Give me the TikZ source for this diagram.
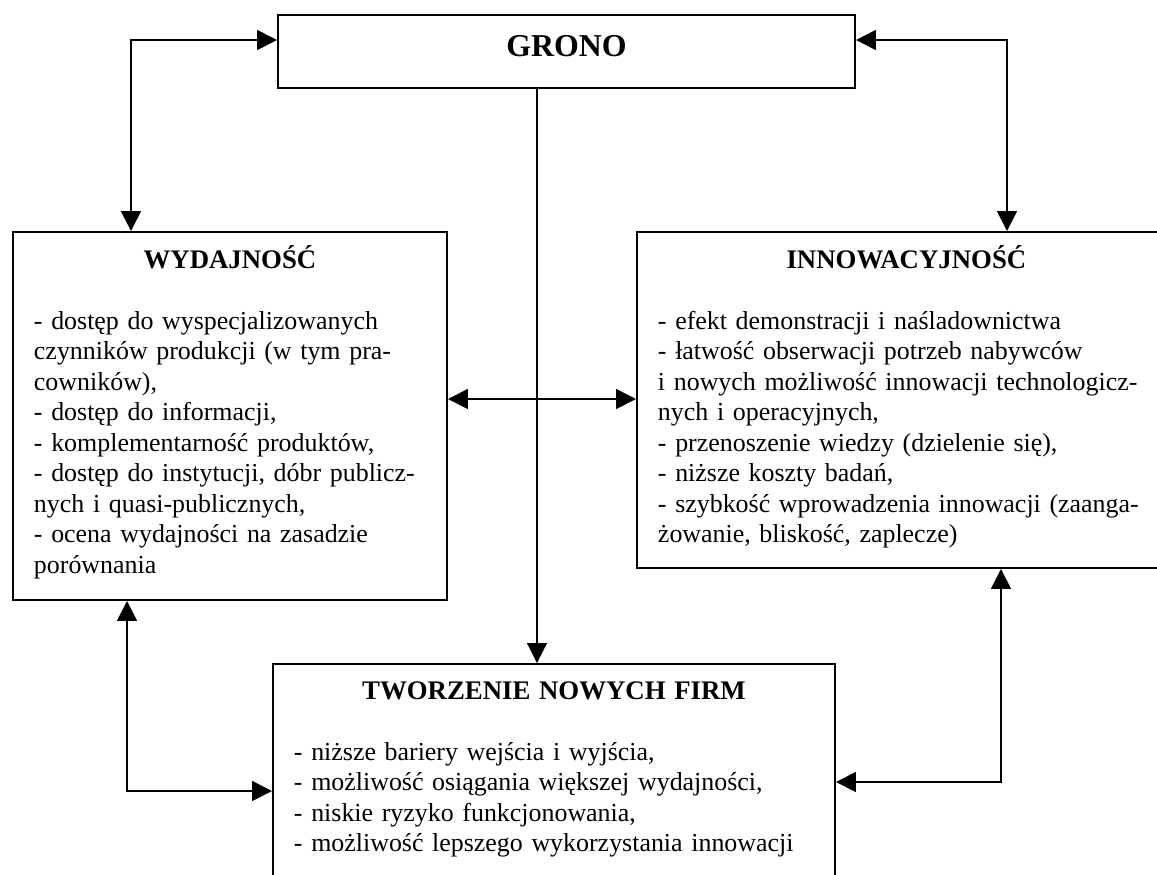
\documentclass[tikz,border=0pt]{standalone}
\usepackage{fontspec}
\setmainfont{Liberation Serif}
\usetikzlibrary{arrows.meta}

\newcommand{\paneltitle}[1]{{\centering\fontsize{12.2}{13.9}\selectfont\bfseries #1\par}\vspace{\baselineskip}}

\begin{document}
\begin{tikzpicture}[
  every node/.style={font=\fontsize{11.8}{13.9}\selectfont},
  mainbox/.style={
    rectangle, draw, line width=0.9pt, inner sep=0pt,
    font=\fontsize{14.5}{17}\selectfont\bfseries
  },
  panel/.style={
    rectangle, draw, line width=0.9pt, anchor=north west,
    inner xsep=0.336cm, inner ysep=0pt, align=left
  },
  arr/.style={{Triangle[length=3.2mm,width=3.2mm]}-{Triangle[length=3.2mm,width=3.2mm]}, line width=0.8pt},
  feed/.style={-{Triangle[length=3.2mm,width=3.2mm]}, line width=0.5pt},
]

% page frame (lower box runs off the page)
\useasboundingbox (0,0) rectangle (18.512,-13.984);
\clip (0,0) rectangle (18.512,-13.984);

% === Top: cluster ===
\node[mainbox, minimum width=9.232cm, minimum height=1.168cm, text depth=0.176cm] (grono) at (9.064,-0.824) {GRONO};

% === Middle row: effects ===
\node[panel, text width=6.272cm, text height=0.576cm, text depth=5.312cm] (wyd) at (0.192,-3.696) {\paneltitle{WYDAJNOŚĆ}
- dostęp do wyspecjalizowanych\\
czynników produkcji (w tym pra-\\
cowników),\\
- dostęp do informacji,\\
- komplementarność produktów,\\
- dostęp do instytucji, dóbr publicz-\\
nych i quasi-publicznych,\\
- ocena wydajności na zasadzie\\
porównania};

\node[panel, text width=7.95cm, text height=0.576cm, text depth=4.8cm] (inno) at (10.176,-3.696) {\paneltitle{INNOWACYJNOŚĆ}
- efekt demonstracji i naśladownictwa\\
- łatwość obserwacji potrzeb nabywców\\
i nowych możliwość innowacji technologicz-\\
nych i operacyjnych,\\
- przenoszenie wiedzy (dzielenie się),\\
- niższe koszty badań,\\
- szybkość wprowadzenia innowacji (zaanga-\\
żowanie, bliskość, zaplecze)};

% === Bottom: new firms ===
\node[panel, text width=8.32cm, text height=0.56cm, text depth=3.232cm] (tworz) at (4.352,-10.608) {\paneltitle{TWORZENIE NOWYCH FIRM}
- niższe bariery wejścia i wyjścia,\\
- możliwość osiągania większej wydajności,\\
- niskie ryzyko funkcjonowania,\\
- możliwość lepszego wykorzystania innowacji};

% bend points of the connectors
\coordinate (tl) at (2.096,-0.64);
\coordinate (tr) at (16.112,-0.64);
\coordinate (hub) at (8.592,-6.384);
\coordinate (bl) at (2.032,-12.656);
\coordinate (br) at (16.016,-12.512);

% === Connectors ===
\draw[arr] (grono.west |- tl) -| (wyd.north -| tl);
\draw[arr] (grono.east |- tr) -| (inno.north -| tr);
\draw[feed] (grono.south -| hub) -- (tworz.north -| hub);
\draw[arr] (wyd.east |- hub) -- (inno.west |- hub);
\draw[arr] (wyd.south -| bl) |- (tworz.west |- bl);
\draw[arr] (inno.south -| br) |- (tworz.east |- br);

\end{tikzpicture}
\end{document}
